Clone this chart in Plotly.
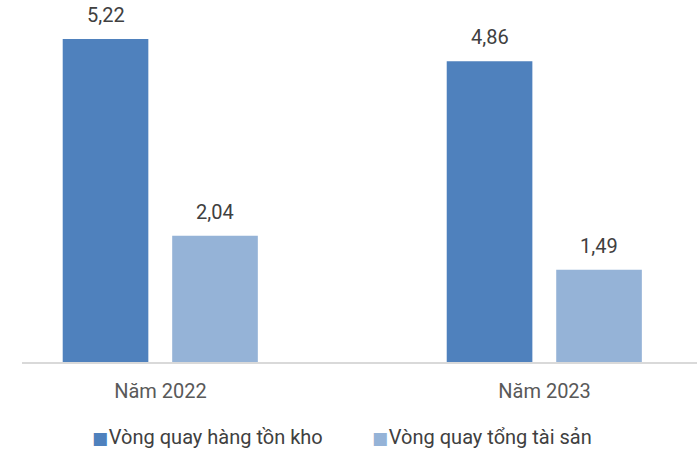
import plotly.graph_objects as go

categories = ["Năm 2022", "Năm 2023"]
series_names = ["Vòng quay hàng tồn kho", "Vòng quay tổng tài sản"]
inventory_turnover = [5.22, 4.86]
asset_turnover = [2.04, 1.49]
colors = ["#4F81BD", "#95B3D7"]

xpos = list(range(len(categories)))
fig = go.Figure()
offsets = [-0.2547, 0.0304]
width = 0.223
for name, vals, col, off in zip(series_names, [inventory_turnover, asset_turnover], colors, offsets):
    fig.add_trace(go.Bar(
        x=xpos, y=vals, name=name, marker=dict(color=col, line=dict(width=0)),
        width=width, offset=off, showlegend=False,
    ))
    for xi, v in zip(xpos, vals):
        fig.add_annotation(
            x=xi + off + width / 2, y=v, xref="x", yref="y",
            text=f"{v:.2f}".replace(".", ","), showarrow=False,
            yanchor="bottom", yshift=10,
            font=dict(family="Roboto", size=20, color="#404040"),
        )

# legend built as text items
legend_x = [0.1007, 0.5155]
for name, col, lx in zip(series_names, colors, legend_x):
    fig.add_annotation(
        x=lx, y=-0.2193, xref="paper", yref="paper", xanchor="left", yanchor="middle",
        text=f'<span style="color:{col};font-size:17px;font-family:DejaVu Sans">■</span><span style="font-size:3px"> </span>{name}',
        showarrow=False, font=dict(family="Roboto", size=20, color="#404040"),
    )

fig.update_layout(
    width=697, height=453,
    margin=dict(l=22, r=0, t=20, b=91),
    paper_bgcolor="white", plot_bgcolor="white",
    barmode="overlay", separators=",.",
    font=dict(family="Roboto", size=20, color="#595959"),
    xaxis=dict(range=[-0.3607, 1.397], tickvals=xpos, ticktext=categories,
               showline=True, linecolor="#D9D9D9", linewidth=1.5,
               showgrid=False, zeroline=False, ticks="outside", ticklen=10,
               tickcolor="rgba(0,0,0,0)", tickfont=dict(size=20, color="#595959")),
    yaxis=dict(range=[0, 5.527], visible=False, showgrid=False),
    showlegend=False,
)
fig.write_html("out.html")
